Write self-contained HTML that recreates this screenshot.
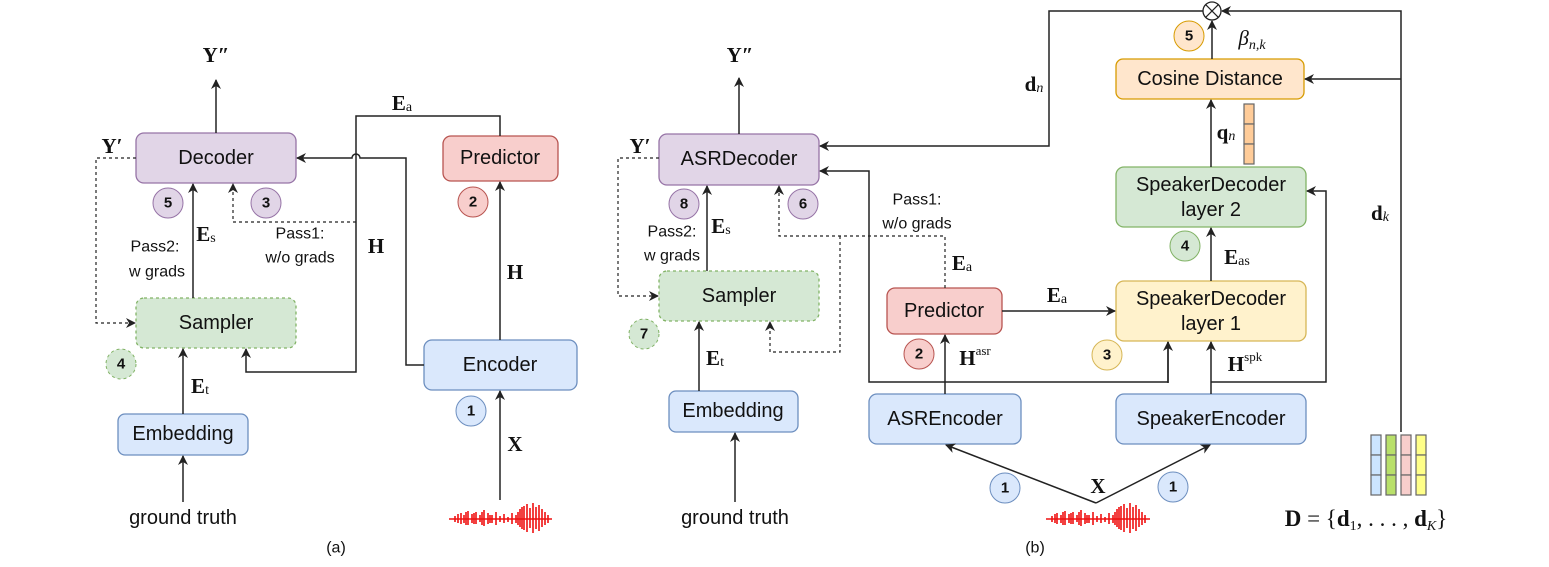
<!DOCTYPE html>
<html><head><meta charset="utf-8"><style>
html,body{margin:0;padding:0;background:#fff;}
svg{display:block;}
.b{font-family:"Liberation Sans",sans-serif;font-size:20px;fill:#111;text-anchor:middle;dominant-baseline:central;}
.s{font-family:"Liberation Sans",sans-serif;font-size:16px;fill:#111;text-anchor:middle;dominant-baseline:central;}
.m{font-family:"Liberation Serif",serif;font-size:21px;font-weight:bold;fill:#111;text-anchor:middle;dominant-baseline:central;}
.n{font-family:"Liberation Sans",sans-serif;font-size:15px;font-weight:bold;fill:#111;text-anchor:middle;dominant-baseline:central;}
.l{stroke:#222;stroke-width:1.5;fill:none;}
.d{stroke:#222;stroke-width:1.2;fill:none;stroke-dasharray:3,3;}
</style></head><body>
<svg width="1549" height="567" viewBox="0 0 1549 567" xmlns="http://www.w3.org/2000/svg">
<defs>
<marker id="a" markerWidth="10" markerHeight="10" refX="9" refY="5" orient="auto" markerUnits="userSpaceOnUse">
<path d="M0,0 L10,5 L0,10 L3,5 Z" fill="#222"/></marker>
</defs>

<!-- ===== Panel (a) ===== -->
<rect x="136" y="133" width="160" height="50" rx="8" fill="#e1d5e7" stroke="#9673a6" stroke-width="1.3"/>
<text class="b" x="216" y="158">Decoder</text>
<rect x="443" y="136" width="115" height="45" rx="8" fill="#f8cecc" stroke="#b85450" stroke-width="1.3"/>
<text class="b" x="500" y="158">Predictor</text>
<rect x="424" y="340" width="153" height="50" rx="8" fill="#dae8fc" stroke="#6c8ebf" stroke-width="1.3"/>
<text class="b" x="500" y="365">Encoder</text>
<rect x="136" y="298" width="160" height="50" rx="8" fill="#d5e8d4" stroke="#82b366" stroke-width="1.3" stroke-dasharray="3,3"/>
<text class="b" x="216" y="323">Sampler</text>
<rect x="118" y="414" width="130" height="41" rx="7" fill="#dae8fc" stroke="#6c8ebf" stroke-width="1.3"/>
<text class="b" x="183" y="434">Embedding</text>

<circle cx="168" cy="203" r="15" fill="#e1d5e7" stroke="#9673a6"/><text class="n" x="168" y="203">5</text>
<circle cx="266" cy="203" r="15" fill="#e1d5e7" stroke="#9673a6"/><text class="n" x="266" y="203">3</text>
<circle cx="473" cy="202" r="15" fill="#f8cecc" stroke="#b85450"/><text class="n" x="473" y="202">2</text>
<circle cx="471" cy="411" r="15" fill="#dae8fc" stroke="#6c8ebf"/><text class="n" x="471" y="411">1</text>
<circle cx="121" cy="364" r="15" fill="#d5e8d4" stroke="#82b366" stroke-dasharray="3,3"/><text class="n" x="121" y="364">4</text>

<line class="l" x1="216" y1="133" x2="216" y2="80" marker-end="url(#a)"/>
<line class="l" x1="193" y1="298" x2="193" y2="184" marker-end="url(#a)"/>
<line class="l" x1="183" y1="414" x2="183" y2="349" marker-end="url(#a)"/>
<line class="l" x1="183" y1="502" x2="183" y2="456" marker-end="url(#a)"/>
<line class="l" x1="500" y1="340" x2="500" y2="182" marker-end="url(#a)"/>
<line class="l" x1="500" y1="500" x2="500" y2="391" marker-end="url(#a)"/>
<path class="l" d="M500,136 V116 H356 V372 H246 V349" marker-end="url(#a)"/>
<path class="l" d="M424,365 H406 V158 H360 a4,4 0 0 0 -8,0 H297" marker-end="url(#a)"/>
<path class="d" d="M356,222 H233 V184" marker-end="url(#a)"/>
<path class="d" d="M136,158 H96 V323 H135" marker-end="url(#a)"/>

<text class="m" x="216" y="55">Y″</text>
<text class="m" x="112" y="146">Y′</text>
<text class="m" x="402" y="103">E<tspan font-size="14" font-weight="normal" dy="4">a</tspan></text>
<text class="m" x="206" y="234">E<tspan font-size="14" font-weight="normal" dy="4">s</tspan></text>
<text class="m" x="200" y="386">E<tspan font-size="14" font-weight="normal" dy="4">t</tspan></text>
<text class="m" x="376" y="246">H</text>
<text class="m" x="515" y="272">H</text>
<text class="m" x="515" y="444">X</text>
<text class="s" x="155" y="247">Pass2:</text>
<text class="s" x="157" y="272">w grads</text>
<text class="s" x="300" y="234">Pass1:</text>
<text class="s" x="300" y="258">w/o grads</text>
<text class="b" x="183" y="518">ground truth</text>
<text class="s" x="336" y="548">(a)</text>
<g stroke="#ee1111" stroke-width="1.6">
<path d="M449,519 H552 M455,516v6 M458,514v9 M461,513v11 M464,515v8 M466,512v13 M468,511v14 M472,514v9 M474,513v11 M476,512v12 M480,515v7 M482,512v13 M484,510v16 M488,513v11 M490,515v8 M492,515v8 M496,512v13 M500,516v6 M504,514v9 M508,517v5 M512,513v11 M516,515v8 M518,512v13 M520,509v18 M522,507v22 M524,506v24 M527,504v28 M530,508v20 M533,503v30 M536,507v22 M539,505v26 M542,509v18 M545,512v13 M548,515v8"/>
</g>

<!-- ===== Panel (b) ===== -->
<rect x="659" y="134" width="160" height="51" rx="8" fill="#e1d5e7" stroke="#9673a6" stroke-width="1.3"/>
<text class="b" x="739" y="159">ASRDecoder</text>
<rect x="659" y="271" width="160" height="50" rx="8" fill="#d5e8d4" stroke="#82b366" stroke-width="1.3" stroke-dasharray="3,3"/>
<text class="b" x="739" y="296">Sampler</text>
<rect x="669" y="391" width="129" height="41" rx="7" fill="#dae8fc" stroke="#6c8ebf" stroke-width="1.3"/>
<text class="b" x="733" y="411">Embedding</text>
<rect x="887" y="288" width="115" height="46" rx="8" fill="#f8cecc" stroke="#b85450" stroke-width="1.3"/>
<text class="b" x="944" y="311">Predictor</text>
<rect x="869" y="394" width="152" height="50" rx="8" fill="#dae8fc" stroke="#6c8ebf" stroke-width="1.3"/>
<text class="b" x="945" y="419">ASREncoder</text>
<rect x="1116" y="394" width="190" height="50" rx="8" fill="#dae8fc" stroke="#6c8ebf" stroke-width="1.3"/>
<text class="b" x="1211" y="419">SpeakerEncoder</text>
<rect x="1116" y="281" width="190" height="60" rx="8" fill="#fff2cc" stroke="#d6b656" stroke-width="1.3"/>
<text class="b" x="1211" y="299">SpeakerDecoder</text>
<text class="b" x="1211" y="324">layer 1</text>
<rect x="1116" y="167" width="190" height="60" rx="8" fill="#d5e8d4" stroke="#82b366" stroke-width="1.3"/>
<text class="b" x="1211" y="185">SpeakerDecoder</text>
<text class="b" x="1211" y="210">layer 2</text>
<rect x="1116" y="59" width="188" height="40" rx="7" fill="#ffe6cc" stroke="#d79b00" stroke-width="1.3"/>
<text class="b" x="1210" y="79">Cosine Distance</text>

<circle cx="684" cy="204" r="15" fill="#e1d5e7" stroke="#9673a6"/><text class="n" x="684" y="204">8</text>
<circle cx="803" cy="204" r="15" fill="#e1d5e7" stroke="#9673a6"/><text class="n" x="803" y="204">6</text>
<circle cx="644" cy="334" r="15" fill="#d5e8d4" stroke="#82b366" stroke-dasharray="3,3"/><text class="n" x="644" y="334">7</text>
<circle cx="919" cy="354" r="15" fill="#f8cecc" stroke="#b85450"/><text class="n" x="919" y="354">2</text>
<circle cx="1107" cy="355" r="15" fill="#fff2cc" stroke="#d6b656"/><text class="n" x="1107" y="355">3</text>
<circle cx="1185" cy="246" r="15" fill="#d5e8d4" stroke="#82b366"/><text class="n" x="1185" y="246">4</text>
<circle cx="1189" cy="36" r="15" fill="#ffe6cc" stroke="#d79b00"/><text class="n" x="1189" y="36">5</text>
<circle cx="1005" cy="488" r="15" fill="#dae8fc" stroke="#6c8ebf"/><text class="n" x="1005" y="488">1</text>
<circle cx="1173" cy="487" r="15" fill="#dae8fc" stroke="#6c8ebf"/><text class="n" x="1173" y="487">1</text>

<line class="l" x1="739" y1="134" x2="739" y2="78" marker-end="url(#a)"/>
<line class="l" x1="707" y1="271" x2="707" y2="186" marker-end="url(#a)"/>
<line class="l" x1="699" y1="391" x2="699" y2="322" marker-end="url(#a)"/>
<line class="l" x1="735" y1="502" x2="735" y2="433" marker-end="url(#a)"/>
<path class="d" d="M659,158 H618 V296 H658" marker-end="url(#a)"/>
<path class="d" d="M945,288 V236 H779 V186" marker-end="url(#a)"/>
<path class="d" d="M840,236 V352 H770 V322" marker-end="url(#a)"/>
<line class="l" x1="945" y1="394" x2="945" y2="335" marker-end="url(#a)"/>
<line class="l" x1="1002" y1="311" x2="1115" y2="311" marker-end="url(#a)"/>
<path class="l" d="M1168,342 V382 H869 V171 H820" marker-start="none" marker-end="url(#a)"/>
<line class="l" x1="1168" y1="383" x2="1168" y2="342" marker-end="url(#a)"/>
<line class="l" x1="1211" y1="394" x2="1211" y2="342" marker-end="url(#a)"/>
<path class="l" d="M1211,382 H1326 V191 H1307" marker-end="url(#a)"/>
<line class="l" x1="1211" y1="281" x2="1211" y2="228" marker-end="url(#a)"/>
<line class="l" x1="1211" y1="167" x2="1211" y2="100" marker-end="url(#a)"/>
<line class="l" x1="1212" y1="59" x2="1212" y2="21" marker-end="url(#a)"/>
<circle cx="1212" cy="11" r="9" fill="#fff" stroke="#222" stroke-width="1.3"/>
<path d="M1205.6,4.6 L1218.4,17.4 M1218.4,4.6 L1205.6,17.4" stroke="#222" stroke-width="1.2"/>
<path class="l" d="M1203,11 H1049 V146 H820" marker-end="url(#a)"/>
<path class="l" d="M1401,432 V11 H1222" marker-end="url(#a)"/>
<path class="l" d="M1401,79 H1305" marker-end="url(#a)"/>
<path class="l" d="M1096,503 L946,445" marker-end="url(#a)"/>
<path class="l" d="M1096,503 L1210,445" marker-end="url(#a)"/>

<g fill="#ffcc99" stroke="#666" stroke-width="1.2">
<rect x="1244" y="104" width="10" height="20"/><rect x="1244" y="124" width="10" height="20"/><rect x="1244" y="144" width="10" height="20"/>
</g>
<g stroke="#666" stroke-width="1.2">
<g fill="#cce5ff"><rect x="1371" y="435" width="10" height="20"/><rect x="1371" y="455" width="10" height="20"/><rect x="1371" y="475" width="10" height="20"/></g>
<g fill="#b9e06a"><rect x="1386" y="435" width="10" height="20"/><rect x="1386" y="455" width="10" height="20"/><rect x="1386" y="475" width="10" height="20"/></g>
<g fill="#f8cecc"><rect x="1401" y="435" width="10" height="20"/><rect x="1401" y="455" width="10" height="20"/><rect x="1401" y="475" width="10" height="20"/></g>
<g fill="#ffff88"><rect x="1416" y="435" width="10" height="20"/><rect x="1416" y="455" width="10" height="20"/><rect x="1416" y="475" width="10" height="20"/></g>
</g>

<text class="m" x="740" y="55">Y″</text>
<text class="m" x="640" y="146">Y′</text>
<text class="m" x="721" y="226">E<tspan font-size="14" font-weight="normal" dy="4">s</tspan></text>
<text class="m" x="715" y="358">E<tspan font-size="14" font-weight="normal" dy="4">t</tspan></text>
<text class="s" x="672" y="232">Pass2:</text>
<text class="s" x="672" y="256">w grads</text>
<text class="s" x="917" y="200">Pass1:</text>
<text class="s" x="917" y="224">w/o grads</text>
<text class="m" x="962" y="263">E<tspan font-size="14" font-weight="normal" dy="4">a</tspan></text>
<text class="m" x="1057" y="295">E<tspan font-size="14" font-weight="normal" dy="4">a</tspan></text>
<text class="m" x="975" y="358">H<tspan font-size="13" font-weight="normal" dy="-8">asr</tspan></text>
<text class="m" x="1245" y="364">H<tspan font-size="13" font-weight="normal" dy="-8">spk</tspan></text>
<text class="m" x="1237" y="257">E<tspan font-size="14" font-weight="normal" dy="4">as</tspan></text>
<text class="m" x="1226" y="132">q<tspan font-size="14" font-weight="normal" font-style="italic" dy="4">n</tspan></text>
<text class="m" x="1034" y="84">d<tspan font-size="14" font-weight="normal" font-style="italic" dy="4">n</tspan></text>
<text class="m" x="1380" y="213">d<tspan font-size="14" font-weight="normal" font-style="italic" dy="4">k</tspan></text>
<text x="1252" y="45" font-family="Liberation Serif,serif" font-size="21" font-style="italic" text-anchor="middle" fill="#111">β<tspan font-size="14" dy="4">n,k</tspan></text>
<text class="m" x="1098" y="486">X</text>
<text x="1366" y="526" font-family="Liberation Serif,serif" font-size="23" text-anchor="middle" fill="#111"><tspan font-weight="bold">D</tspan> = {<tspan font-weight="bold">d</tspan><tspan font-size="14" dy="4">1</tspan><tspan dy="-4">, . . . , </tspan><tspan font-weight="bold">d</tspan><tspan font-size="14" font-style="italic" dy="4">K</tspan><tspan dy="-4">}</tspan></text>
<text class="b" x="735" y="518">ground truth</text>
<text class="s" x="1035" y="548">(b)</text>
<g stroke="#ee1111" stroke-width="1.6">
<path d="M1046,519 H1150 M1052,516v6 M1055,514v9 M1057,513v11 M1061,515v8 M1063,512v13 M1065,511v14 M1069,514v9 M1071,513v11 M1073,512v12 M1077,515v7 M1079,512v13 M1081,510v16 M1085,513v11 M1087,515v8 M1089,515v8 M1093,512v13 M1097,516v6 M1101,514v9 M1105,517v5 M1109,513v11 M1113,515v8 M1115,512v13 M1117,509v18 M1119,507v22 M1121,506v24 M1124,504v28 M1127,508v20 M1130,503v30 M1133,507v22 M1136,505v26 M1139,509v18 M1142,512v13 M1145,515v8"/>
</g>
</svg>
</body></html>
